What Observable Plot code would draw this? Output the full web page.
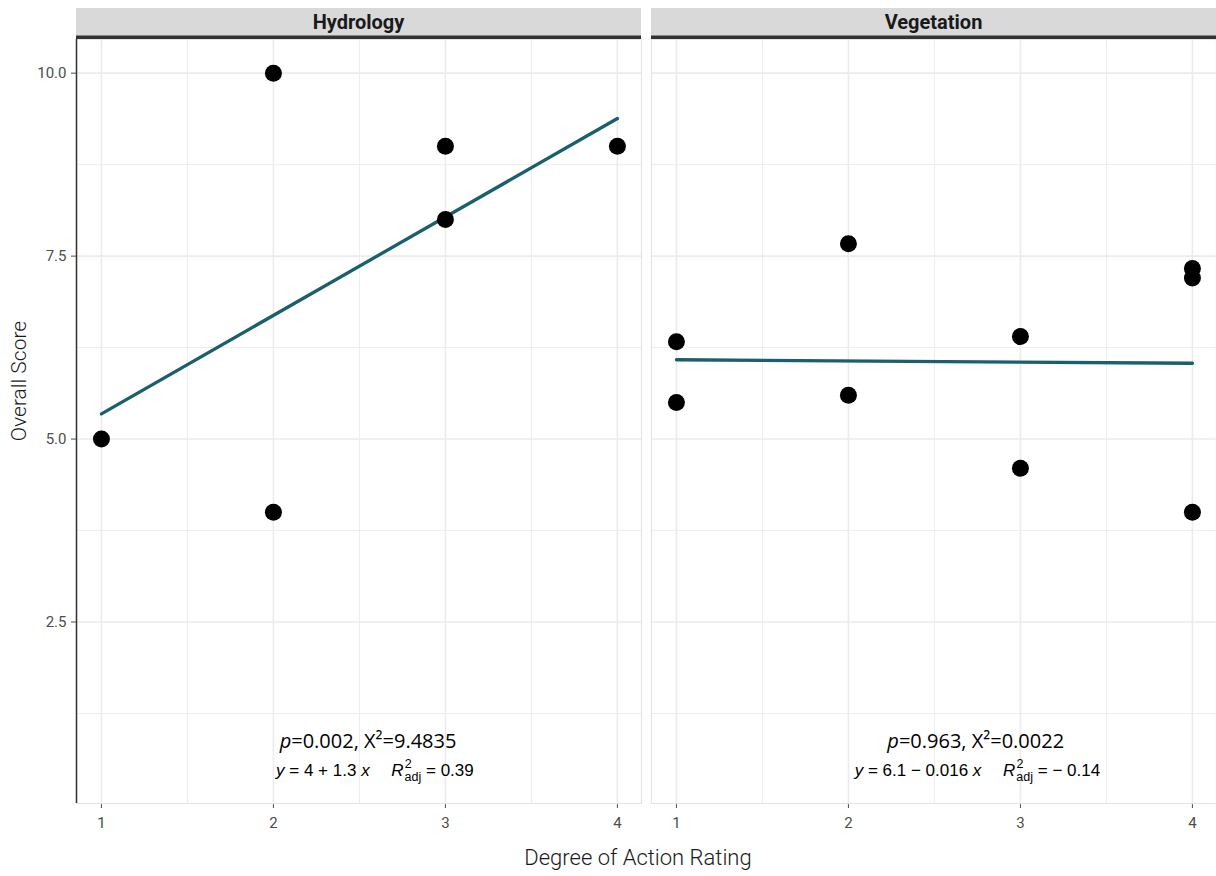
<!DOCTYPE html>
<html>
<head>
<meta charset="utf-8">
<script src="https://cdn.jsdelivr.net/npm/d3@7"></script>
<script src="https://cdn.jsdelivr.net/npm/@observablehq/plot@0.6"></script>
<style>
  html, body { margin: 0; padding: 0; background: #fff; }
  #chart svg { display: block; }
</style>
</head>
<body>
<div id="chart"></div>
<script>
// Facet panels
const panels = ["Hydrology", "Vegetation"];

// Observations: degree of action rating vs overall score
const hydrologyRating = [1, 2, 2, 3, 3, 4];
const hydrologyScore = [5, 10, 4, 9, 8, 9];
const vegetationRating = [1, 1, 2, 2, 3, 3, 4, 4, 4];
const vegetationScore = [6.33, 5.5, 7.67, 5.6, 6.4, 4.6, 7.33, 7.2, 4.0];

// Linear fits per panel (y = a + b x) over the rating range
const fitIntercept = [4.0, 6.1];
const fitSlope = [1.345, -0.016];
const fitRange = [1, 4];
const adjR2 = [0.39, -0.14];

// Test statistics per panel
const pValue = ["0.002", "0.963"];
const chiSquare = ["9.4835", "0.0022"];

// Annotation anchors (data units)
const testLabelX = [2.55, 2.74];
const fitLabelX = [2.59, 2.75];
const testLabelY = 0.86;
const fitLabelY = 0.47;

// Axis ticks and grid
const xDomain = [0.855, 4.14];
const yDomain = [0.02, 10.46];
const xTicks = [1, 2, 3, 4];
const xMinor = [1.5, 2.5, 3.5];
const yTicks = [2.5, 5, 7.5, 10];
const yMinor = [1.25, 3.75, 6.25, 8.75];

const fmt = d3.format(".2~g");
const MINUS = "\u2212";

const points = [
  ...hydrologyRating.map((x, i) => ({panel: panels[0], x, y: hydrologyScore[i]})),
  ...vegetationRating.map((x, i) => ({panel: panels[1], x, y: vegetationScore[i]}))
];
const fits = panels.flatMap((panel, i) =>
  fitRange.map(x => ({panel, x, y: fitIntercept[i] + fitSlope[i] * x})));

// Plain-text versions of the labels (styled afterwards with tspans)
const testText = panels.map((_, i) => `p=${pValue[i]}, X²=${chiSquare[i]}`);
const fitText = panels.map((_, i) =>
  `y = ${fmt(fitIntercept[i])} ${fitSlope[i] < 0 ? MINUS : "+"} ${fmt(Math.abs(fitSlope[i]))} x   R2adj = ${adjR2[i] < 0 ? MINUS + " " : ""}${fmt(Math.abs(adjR2[i]))}`);
const stats = panels.map((panel, i) => ({
  panel, i, xt: testLabelX[i], xf: fitLabelX[i], yt: testLabelY, yf: fitLabelY,
  test: testText[i], fit: fitText[i]
}));

const W = 1216, H = 876;
const mL = 76, mR = 0, mT = 39, mB = 73, gap = 10;
const step = (W - mL - mR + gap) / panels.length;

const gridMinor = {stroke: "#ebebeb", strokeWidth: 0.9};
const gridMajor = {stroke: "#ebebeb", strokeWidth: 1.6};

const chart = Plot.plot({
  width: W,
  height: H,
  marginLeft: mL,
  marginRight: mR,
  marginTop: mT,
  marginBottom: mB,
  style: {fontFamily: "Roboto", fontSize: "15px", color: "#4d4d4d", background: "#fff", overflow: "visible"},
  fx: {domain: panels, paddingInner: gap / step, paddingOuter: 0, round: false, axis: null, label: null},
  x: {domain: xDomain, ticks: xTicks, tickFormat: "d", tickSize: 5, tickPadding: 9, label: null},
  y: {domain: yDomain, ticks: yTicks, tickFormat: ".1f", tickSize: 5, tickPadding: 5, label: null},
  marks: [
    Plot.ruleY(yMinor, gridMinor),
    Plot.ruleX(xMinor, gridMinor),
    Plot.ruleY(yTicks, gridMajor),
    Plot.ruleX(xTicks, gridMajor),
    Plot.frame({stroke: "#e4e4e4", strokeWidth: 1.2}),
    // y axis line along the left edge of the first panel
    Plot.ruleX([{panel: panels[0]}], {fx: "panel", x: () => xDomain[0], stroke: "#333", strokeWidth: 1.5}),
    Plot.line(fits, {fx: "panel", x: "x", y: "y", z: "panel", stroke: "#1a5f6d", strokeWidth: 3.3}),
    Plot.dot(points, {fx: "panel", x: "x", y: "y", r: 8.5, fill: "#000", stroke: "none"}),
    Plot.text(stats, {fx: "panel", x: "xt", y: "yt", text: "test",
      fontFamily: "Open Sans", fontSize: 20, fill: "#000"}),
    Plot.text(stats, {fx: "panel", x: "xf", y: "yf", text: "fit",
      fontFamily: "Liberation Sans", fontSize: 17, fill: "#000"})
  ]
});

const svg = d3.select(chart);

// Rich text for the statistics labels
svg.selectAll("text").each(function() {
  const content = this.textContent;
  const k1 = testText.indexOf(content);
  const k2 = fitText.indexOf(content);
  if (k1 >= 0) {
    const t = d3.select(this).text("");
    t.append("tspan").attr("font-style", "italic").text("p");
    t.append("tspan").text(`=${pValue[k1]}, X²=${chiSquare[k1]}`);
  } else if (k2 >= 0) {
    const t = d3.select(this).text("").style("white-space", "pre");
    const a = fitIntercept[k2], b = fitSlope[k2], r = adjR2[k2];
    t.append("tspan").attr("font-style", "italic").text("y");
    t.append("tspan").text(` = ${fmt(a)} ${b < 0 ? MINUS : "+"} ${fmt(Math.abs(b))} `);
    t.append("tspan").attr("font-style", "italic").text("x");
    t.append("tspan").text("\u2003 ");
    t.append("tspan").attr("font-style", "italic").text("R");
    t.append("tspan").attr("font-size", 12.5).attr("dx", 1).attr("dy", -8).text("2");
    t.append("tspan").attr("font-size", 12.5).attr("dx", -7).attr("dy", 13).text("adj");
    t.append("tspan").attr("dy", -5).text(` = ${r < 0 ? MINUS + " " : ""}${fmt(Math.abs(r))}`);
  }
});

// Darker tick marks
svg.selectAll('[aria-label="y-axis tick"], [aria-label="x-axis tick"]').attr("stroke", "#333");

// Facet strips
const band = d3.scaleBand(panels, [mL, W - mR]).paddingInner(gap / step).paddingOuter(0);
const strips = svg.append("g").attr("aria-label", "strips");
panels.forEach(p => {
  const x0 = band(p), bw = band.bandwidth();
  strips.append("rect").attr("x", x0).attr("y", 8).attr("width", bw).attr("height", 28).attr("fill", "#d9d9d9");
  strips.append("rect").attr("x", x0).attr("y", 35.5).attr("width", bw).attr("height", 3.5).attr("fill", "#333");
  strips.append("text")
    .attr("x", x0 + bw / 2).attr("y", 22).attr("dy", "0.35em")
    .attr("text-anchor", "middle")
    .attr("font-family", "Roboto").attr("font-weight", 700).attr("font-size", 20)
    .attr("fill", "#1a1a1a")
    .text(p);
});

// Axis titles
svg.append("text")
  .attr("x", (mL + W - mR) / 2 - 8).attr("y", 857).attr("dy", "0.35em")
  .attr("text-anchor", "middle")
  .attr("font-family", "Roboto").attr("font-weight", 300).attr("font-size", 22)
  .attr("fill", "#1a1a1a")
  .text("Degree of Action Rating");
svg.append("text")
  .attr("transform", "translate(19,381) rotate(-90)").attr("dy", "0.35em")
  .attr("text-anchor", "middle")
  .attr("font-family", "Roboto").attr("font-weight", 300).attr("font-size", 21)
  .attr("fill", "#1a1a1a")
  .text("Overall Score");

document.getElementById("chart").appendChild(chart);
</script>
</body>
</html>
